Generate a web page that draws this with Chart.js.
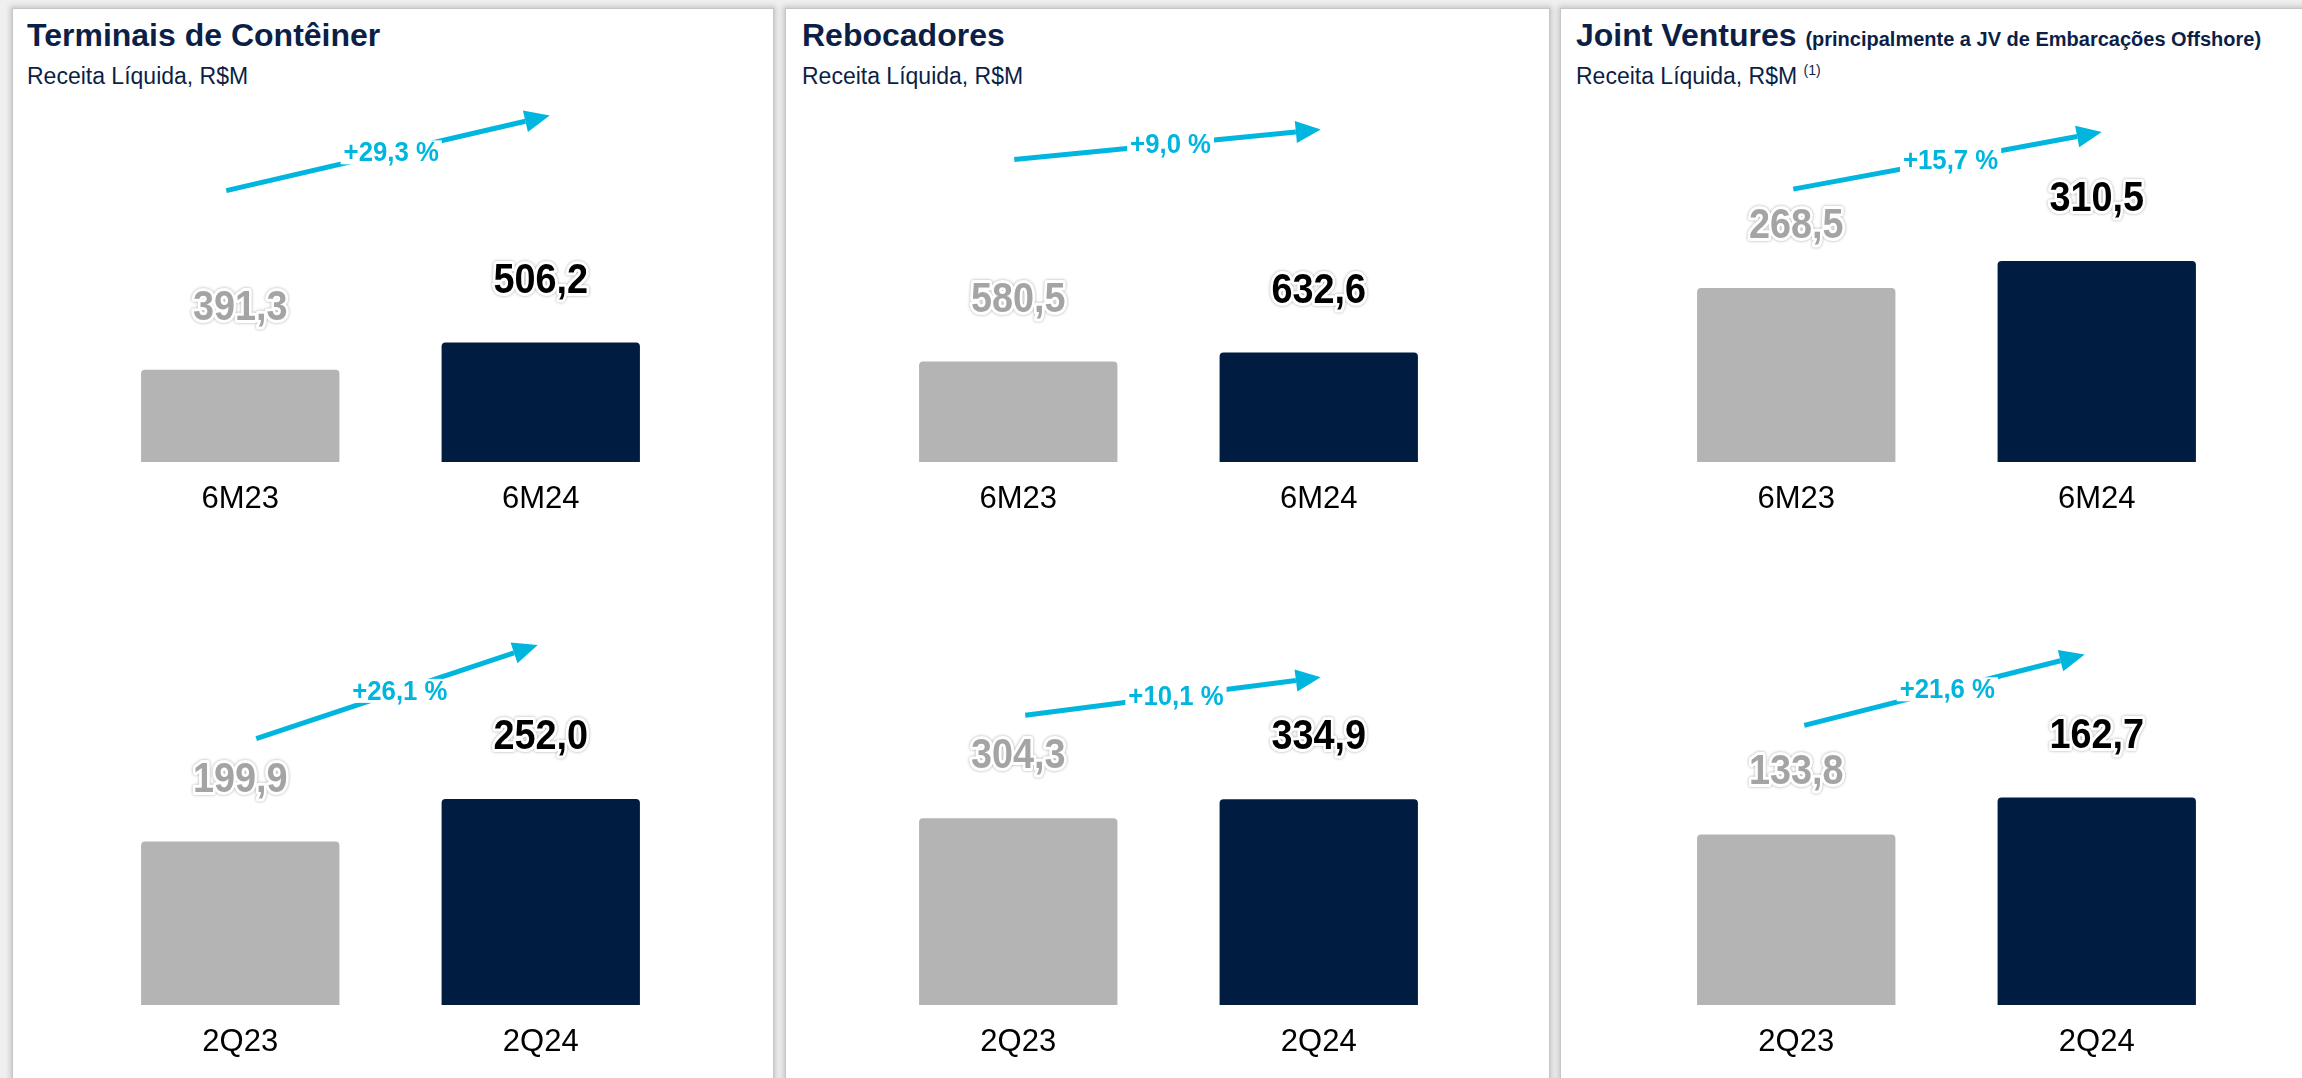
<!DOCTYPE html>
<html>
<head>
<meta charset="utf-8">
<script src="https://cdn.jsdelivr.net/npm/chart.js@4.4.0/dist/chart.umd.min.js"></script>
<style>
  body { margin: 0; width: 2302px; height: 1078px; overflow: hidden; position: relative;
         background: #efefef; font-family: "Liberation Sans", Arial, sans-serif; }
  .panel { position: absolute; top: 8px; height: 1100px; background: #fff;
           border: 1px solid #c6c6c6; box-shadow: 0 0 5px 2px rgba(0,0,0,0.16); }
  .title { position: absolute; top: 19px; font-size: 32px; line-height: 32px; font-weight: bold;
           color: #0c1f47; white-space: nowrap; }
  .title small { font-size: 20px; }
  .sub { position: absolute; top: 65px; font-size: 23px; line-height: 23px; color: #0c1f47; white-space: nowrap; }
  .sub sup { font-size: 14px; vertical-align: 9px; line-height: 0; }
  canvas { position: absolute; }
</style>
</head>
<body>
<div class="panel" style="left:12px; width:760px;"></div>
<div class="panel" style="left:785px; width:763px;"></div>
<div class="panel" style="left:1560px; width:800px;"></div>

<div class="title" style="left:27px;">Terminais de Contêiner</div>
<div class="sub" style="left:27px;">Receita Líquida, R$M</div>
<div class="title" style="left:802px;">Rebocadores</div>
<div class="sub" style="left:802px;">Receita Líquida, R$M</div>
<div class="title" style="left:1576px;">Joint Ventures <small>(principalmente a JV de Embarcações Offshore)</small></div>
<div class="sub" style="left:1576px;">Receita Líquida, R$M <sup>(1)</sup></div>

<canvas id="c1" width="601" height="432" style="left:90px; top:100px;"></canvas>
<canvas id="c2" width="601" height="455" style="left:90px; top:620px;"></canvas>
<canvas id="c3" width="601" height="432" style="left:868px; top:100px;"></canvas>
<canvas id="c4" width="601" height="455" style="left:868px; top:620px;"></canvas>
<canvas id="c5" width="601" height="432" style="left:1646px; top:100px;"></canvas>
<canvas id="c6" width="601" height="455" style="left:1646px; top:620px;"></canvas>

<script>
// Categories
const labels6M = ['6M23', '6M24'];
const labels2Q = ['2Q23', '2Q24'];

// Receita Líquida, R$M
const terminais6M = [391.3, 506.2];
const terminais2Q = [199.9, 252.0];
const rebocadores6M = [580.5, 632.6];
const rebocadores2Q = [304.3, 334.9];
const jv6M = [268.5, 310.5];
const jv2Q = [133.8, 162.7];

// Growth labels
const growth = ['+29,3 %', '+26,1 %', '+9,0 %', '+10,1 %', '+15,7 %', '+21,6 %'];

const GRAY = '#b4b4b4';
const NAVY = '#011c41';
const CYAN = '#00b6df';

function fmt(v) {
    return v.toFixed(1).replace('.', ',');
}

// value labels + growth arrow
const decorPlugin = {
    id: 'decor',
    afterDatasetsDraw(chart, args, opts) {
        const ctx = chart.ctx;
        const bars = chart.getDatasetMeta(0).data;
        const values = chart.data.datasets[0].data;

        bars.forEach((bar, i) => {
            ctx.save();
            ctx.translate(bar.x, bar.y - 50);
            ctx.scale(0.9, 1);
            ctx.font = 'bold 42px "Liberation Sans", Arial, sans-serif';
            ctx.textAlign = 'center';
            ctx.textBaseline = 'alphabetic';
            ctx.lineJoin = 'round';
            ctx.shadowColor = 'rgba(0,0,0,0.35)';
            ctx.shadowBlur = 3;
            ctx.strokeStyle = '#ffffff';
            ctx.lineWidth = 6;
            ctx.strokeText(fmt(values[i]), 0, 0);
            ctx.shadowColor = 'transparent';
            ctx.fillStyle = i === 0 ? '#a4a4a4' : '#000000';
            ctx.fillText(fmt(values[i]), 0, 0);
            ctx.restore();
        });

        // arrow
        const a = opts.arrow;
        const x0 = bars[0].x + a.dx0, y0 = bars[0].y - a.g0;
        const x1 = bars[1].x + a.dx1, y1 = bars[1].y - a.g1;
        const ang = Math.atan2(y1 - y0, x1 - x0);
        const head = 25, half = 11;
        const bx = x1 - head * Math.cos(ang), by = y1 - head * Math.sin(ang);
        ctx.save();
        ctx.strokeStyle = CYAN;
        ctx.fillStyle = CYAN;
        ctx.lineWidth = 5;
        ctx.beginPath();
        ctx.moveTo(x0, y0);
        ctx.lineTo(bx, by);
        ctx.stroke();
        ctx.beginPath();
        ctx.moveTo(x1, y1);
        ctx.lineTo(bx + half * Math.sin(ang), by - half * Math.cos(ang));
        ctx.lineTo(bx - half * Math.sin(ang), by + half * Math.cos(ang));
        ctx.closePath();
        ctx.fill();

        // growth text sits on the line
        const tx = x0 + (x1 - x0) * 0.51, ty = y0 + (y1 - y0) * 0.51;
        ctx.font = 'bold 28px "Liberation Sans", Arial, sans-serif';
        const w = ctx.measureText(opts.pct).width * 0.92;
        ctx.fillStyle = '#ffffff';
        ctx.fillRect(tx - w / 2 - 3, ty - 12, w + 6, 24);
        ctx.translate(tx, ty + 1);
        ctx.scale(0.92, 1);
        ctx.fillStyle = CYAN;
        ctx.textAlign = 'center';
        ctx.textBaseline = 'middle';
        ctx.fillText(opts.pct, 0, 0);
        ctx.restore();
    }
};

function makeChart(id, labels, values, yMax, pct, arrow) {
    new Chart(document.getElementById(id), {
        type: 'bar',
        data: {
            labels: labels,
            datasets: [{
                data: values,
                backgroundColor: [GRAY, NAVY],
                borderRadius: { topLeft: 4, topRight: 4 },
                borderSkipped: 'start',
                barPercentage: 0.66,
                categoryPercentage: 1
            }]
        },
        options: {
            responsive: false,
            animation: false,
            layout: { padding: 0 },
            plugins: {
                legend: { display: false },
                tooltip: { enabled: false },
                decor: { pct: pct, arrow: arrow }
            },
            scales: {
                x: {
                    grid: { display: false },
                    border: { display: false },
                    ticks: {
                        color: '#000000',
                        padding: 11,
                        font: { family: '"Liberation Sans", Arial, sans-serif', size: 31 }
                    },
                    afterFit: (scale) => { scale.height = 70; }
                },
                y: { display: false, min: 0, max: yMax }
            }
        },
        plugins: [decorPlugin]
    });
}

makeChart('c1', labels6M, terminais6M, 1534, growth[0], { dx0: -14, g0: 179, dx1: 9, g1: 227 });
makeChart('c2', labels2Q, terminais2Q, 471, growth[1], { dx0: 16, g0: 103, dx1: -3, g1: 154 });
makeChart('c3', labels6M, rebocadores6M, 2092, growth[2], { dx0: -4, g0: 202, dx1: 2, g1: 223 });
makeChart('c4', labels2Q, rebocadores2Q, 627, growth[3], { dx0: 7, g0: 103, dx1: 2, g1: 122 });
makeChart('c5', labels6M, jv6M, 559, growth[4], { dx0: -3, g0: 99, dx1: 5, g1: 129 });
makeChart('c6', labels2Q, jv2Q, 302, growth[5], { dx0: 8, g0: 109, dx1: -12, g1: 143 });
</script>
</body>
</html>
